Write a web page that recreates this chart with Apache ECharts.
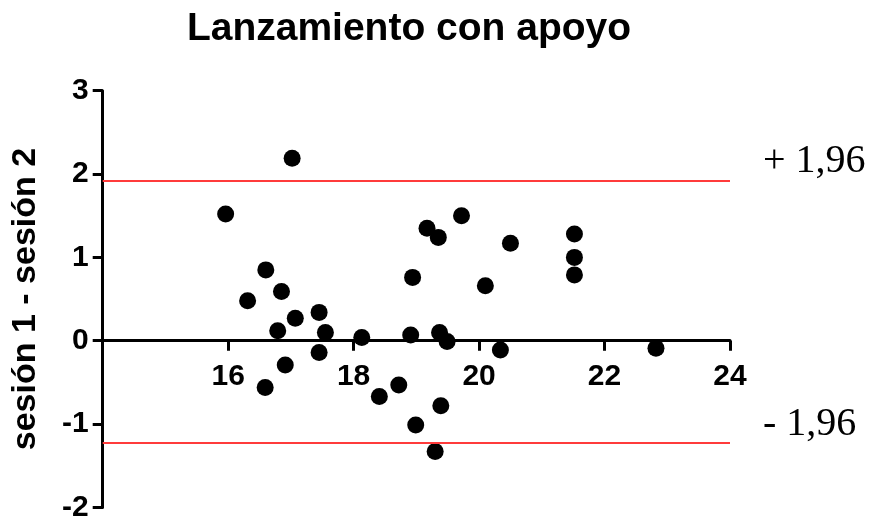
<!DOCTYPE html>
<html>
<head>
<meta charset="utf-8">
<script src="https://cdn.jsdelivr.net/npm/echarts@6/dist/echarts.min.js"></script>
<style>
html,body{margin:0;padding:0;background:#fff;}
#chart{width:871px;height:522px;}
</style>
</head>
<body>
<div id="chart"></div>
<script>
const titleText = 'Lanzamiento con apoyo';
const yName = 'sesión 1 - sesión 2';
const xValues = [15.96, 16.31, 16.60, 16.59, 16.79, 16.85, 16.91, 17.02, 17.07, 17.45, 17.45, 17.55, 18.13, 18.41, 18.72, 18.91, 18.94, 18.99, 19.17, 19.30, 19.35, 19.37, 19.39, 19.49, 19.72, 20.10, 20.34, 20.50, 21.52, 21.52, 21.52, 22.82];
const yValues = [1.52, 0.48, 0.85, -0.56, 0.12, 0.59, -0.29, 2.19, 0.27, 0.34, -0.14, 0.10, 0.04, -0.67, -0.53, 0.07, 0.76, -1.01, 1.35, -1.33, 1.24, 0.10, -0.78, -0.01, 1.50, 0.66, -0.11, 1.17, 1.28, 1.00, 0.79, -0.09];
const limitValues = [1.915, -1.23];
const limitLabels = ['+ 1,96', '- 1,96'];
const xTicks = [14, 16, 18, 20, 22, 24];
const yTicks = [-2, -1, 0, 1, 2, 3];

const points = xValues.map((x, i) => [x, yValues[i]]);
const font = "'Liberation Sans', Arial, sans-serif";

const gridTop = 90.7, gridBottom = 14.6, chartH = 522;
const plotH = chartH - gridTop - gridBottom;
const yMin = yTicks[0], yMax = yTicks[yTicks.length - 1];
// distance from grid bottom up to y = 0, so the x axis sits on zero
const zeroOffset = -plotH * (0 - yMin) / (yMax - yMin);

const chart = echarts.init(document.getElementById('chart'));
chart.setOption({
  animation: false,
  backgroundColor: '#fff',
  title: {
    text: titleText,
    left: 404,
    top: 5,
    textAlign: 'center',
    textStyle: {fontFamily: font, fontWeight: 'bold', fontSize: 39, color: '#000'}
  },
  grid: {left: 102.7, right: 141, top: gridTop, bottom: gridBottom, containLabel: false, outerBoundsMode: 'none'},
  xAxis: {
    type: 'value',
    min: xTicks[0],
    max: xTicks[xTicks.length - 1],
    interval: 2,
    position: 'bottom',
    offset: zeroOffset,
    axisLine: {onZero: false, lineStyle: {color: '#000', width: 3}},
    axisTick: {length: 10, lineStyle: {color: '#000', width: 3}},
    axisLabel: {
      margin: 21,
      fontFamily: font, fontWeight: 'bold', fontSize: 30, color: '#000',
      formatter: v => (v === xTicks[0] ? '' : String(v))
    },
    splitLine: {show: false}
  },
  yAxis: {
    type: 'value',
    min: yMin,
    max: yMax,
    interval: 1,
    name: yName,
    nameLocation: 'middle',
    nameRotate: 90,
    nameGap: 60,
    nameTextStyle: {fontFamily: font, fontWeight: 'bold', fontSize: 34, color: '#000'},
    axisLine: {onZero: false, lineStyle: {color: '#000', width: 3}},
    axisTick: {length: 10, lineStyle: {color: '#000', width: 3}},
    axisLabel: {margin: 14, fontFamily: font, fontWeight: 'bold', fontSize: 30, color: '#000'},
    splitLine: {show: false}
  },
  series: [{
    type: 'scatter',
    data: points,
    symbolSize: 17,
    itemStyle: {color: '#000', opacity: 1},
    markLine: {
      silent: true,
      symbol: ['none', 'none'],
      lineStyle: {color: '#ff3b3b', width: 2, type: 'solid'},
      label: {
        show: true,
        position: 'end',
        distance: 33,
        offset: [0, -19],
        fontFamily: "'Liberation Serif', 'Times New Roman', serif",
        fontSize: 40,
        color: '#000',
        formatter: p => limitLabels[p.dataIndex]
      },
      data: limitValues.map(v => ({yAxis: v}))
    }
  }]
});
</script>
</body>
</html>
